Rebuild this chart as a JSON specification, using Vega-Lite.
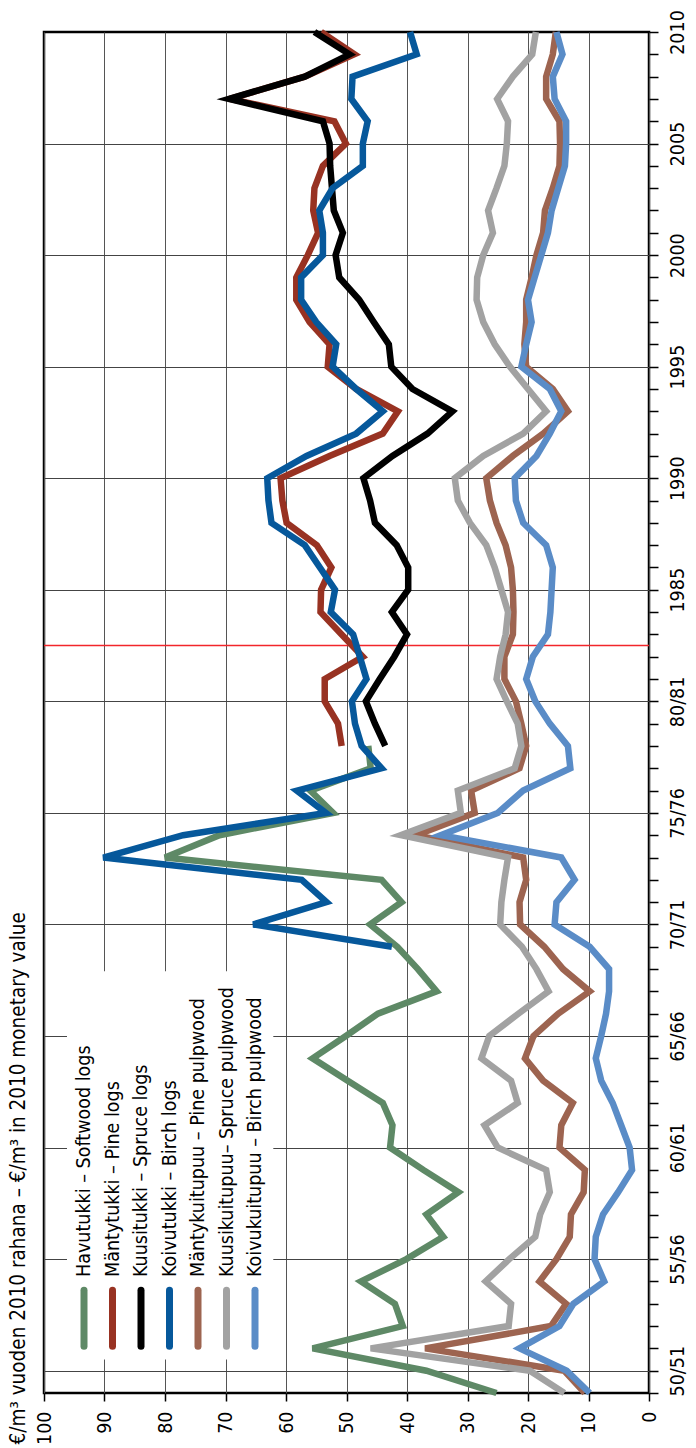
{
"$schema": "https://vega.github.io/schema/vega-lite/v6.json",
"width": 605,
"height": 1361,
"autosize": {"type": "none"},
"padding": {"left": 44, "top": 32, "right": 47, "bottom": 55},
"background": "white",
"config": {"font": "DejaVu Sans Condensed, Liberation Sans, sans-serif", "view": {"stroke": "black", "strokeWidth": 2.5}},
"title": {"text": "€/m³ vuoden 2010 rahana – €/m³ in 2010 monetary value", "orient": "left", "anchor": "start", "fontSize": 20.5, "fontWeight": "normal", "color": "black", "offset": 5},
"datasets": {
"series": [
{"s":"Havutukki","year":1949,"v":25.2},{"s":"Havutukki","year":1950,"v":36.8},{"s":"Havutukki","year":1951,"v":55.6},{"s":"Havutukki","year":1952,"v":40.7},{"s":"Havutukki","year":1953,"v":42.0},{"s":"Havutukki","year":1954,"v":47.6},{"s":"Havutukki","year":1955,"v":40.1},{"s":"Havutukki","year":1956,"v":34.0},{"s":"Havutukki","year":1957,"v":36.8},{"s":"Havutukki","year":1958,"v":31.5},{"s":"Havutukki","year":1959,"v":37.3},{"s":"Havutukki","year":1960,"v":42.8},{"s":"Havutukki","year":1961,"v":42.4},{"s":"Havutukki","year":1962,"v":44.0},{"s":"Havutukki","year":1963,"v":49.8},{"s":"Havutukki","year":1964,"v":55.6},{"s":"Havutukki","year":1965,"v":50.1},{"s":"Havutukki","year":1966,"v":44.8},{"s":"Havutukki","year":1967,"v":35.1},{"s":"Havutukki","year":1968,"v":38.2},{"s":"Havutukki","year":1969,"v":41.6},{"s":"Havutukki","year":1970,"v":46.1},{"s":"Havutukki","year":1971,"v":40.9},{"s":"Havutukki","year":1972,"v":44.2},{"s":"Havutukki","year":1973,"v":80.0},{"s":"Havutukki","year":1974,"v":71.0},{"s":"Havutukki","year":1975,"v":52.2},{"s":"Havutukki","year":1976,"v":56.0},{"s":"Havutukki","year":1977,"v":46.0},{"s":"Havutukki","year":1978,"v":46.4},
{"s":"Mäntytukki","year":1978,"v":50.8},{"s":"Mäntytukki","year":1979,"v":51.4},{"s":"Mäntytukki","year":1980,"v":53.6},{"s":"Mäntytukki","year":1981,"v":53.6},{"s":"Mäntytukki","year":1982,"v":47.3},{"s":"Mäntytukki","year":1983,"v":50.8},{"s":"Mäntytukki","year":1984,"v":54.3},{"s":"Mäntytukki","year":1985,"v":54.2},{"s":"Mäntytukki","year":1986,"v":52.5},{"s":"Mäntytukki","year":1987,"v":54.9},{"s":"Mäntytukki","year":1988,"v":59.9},{"s":"Mäntytukki","year":1989,"v":60.6},{"s":"Mäntytukki","year":1990,"v":60.9},{"s":"Mäntytukki","year":1991,"v":52.8},{"s":"Mäntytukki","year":1992,"v":44.0},{"s":"Mäntytukki","year":1993,"v":41.5},{"s":"Mäntytukki","year":1994,"v":48.4},{"s":"Mäntytukki","year":1995,"v":53.1},{"s":"Mäntytukki","year":1996,"v":52.8},{"s":"Mäntytukki","year":1997,"v":56.1},{"s":"Mäntytukki","year":1998,"v":58.3},{"s":"Mäntytukki","year":1999,"v":58.3},{"s":"Mäntytukki","year":2000,"v":56.4},{"s":"Mäntytukki","year":2001,"v":54.7},{"s":"Mäntytukki","year":2002,"v":55.5},{"s":"Mäntytukki","year":2003,"v":55.3},{"s":"Mäntytukki","year":2004,"v":53.9},{"s":"Mäntytukki","year":2005,"v":50.1},{"s":"Mäntytukki","year":2006,"v":52.0},{"s":"Mäntytukki","year":2007,"v":69.3},{"s":"Mäntytukki","year":2008,"v":56.9},{"s":"Mäntytukki","year":2009,"v":48.7},{"s":"Mäntytukki","year":2010,"v":54.2},
{"s":"Kuusitukki","year":1978,"v":43.6},{"s":"Kuusitukki","year":1979,"v":45.3},{"s":"Kuusitukki","year":1980,"v":46.8},{"s":"Kuusitukki","year":1981,"v":44.5},{"s":"Kuusitukki","year":1982,"v":42.1},{"s":"Kuusitukki","year":1983,"v":40.0},{"s":"Kuusitukki","year":1984,"v":42.5},{"s":"Kuusitukki","year":1985,"v":39.8},{"s":"Kuusitukki","year":1986,"v":39.8},{"s":"Kuusitukki","year":1987,"v":41.7},{"s":"Kuusitukki","year":1988,"v":45.3},{"s":"Kuusitukki","year":1989,"v":46.1},{"s":"Kuusitukki","year":1990,"v":47.2},{"s":"Kuusitukki","year":1991,"v":42.4},{"s":"Kuusitukki","year":1992,"v":36.6},{"s":"Kuusitukki","year":1993,"v":32.5},{"s":"Kuusitukki","year":1994,"v":39.1},{"s":"Kuusitukki","year":1995,"v":42.6},{"s":"Kuusitukki","year":1996,"v":43.0},{"s":"Kuusitukki","year":1997,"v":45.5},{"s":"Kuusitukki","year":1998,"v":47.9},{"s":"Kuusitukki","year":1999,"v":51.2},{"s":"Kuusitukki","year":2000,"v":51.8},{"s":"Kuusitukki","year":2001,"v":50.6},{"s":"Kuusitukki","year":2002,"v":52.1},{"s":"Kuusitukki","year":2003,"v":52.4},{"s":"Kuusitukki","year":2004,"v":52.7},{"s":"Kuusitukki","year":2005,"v":52.8},{"s":"Kuusitukki","year":2006,"v":53.9},{"s":"Kuusitukki","year":2007,"v":69.4},{"s":"Kuusitukki","year":2008,"v":56.9},{"s":"Kuusitukki","year":2009,"v":49.5},{"s":"Kuusitukki","year":2010,"v":55.3},
{"s":"Koivutukki","year":1969,"v":42.5},{"s":"Koivutukki","year":1970,"v":65.4},{"s":"Koivutukki","year":1971,"v":53.3},{"s":"Koivutukki","year":1972,"v":57.4},{"s":"Koivutukki","year":1973,"v":90.2},{"s":"Koivutukki","year":1974,"v":77.0},{"s":"Koivutukki","year":1975,"v":53.4},{"s":"Koivutukki","year":1976,"v":58.2},{"s":"Koivutukki","year":1977,"v":44.2},{"s":"Koivutukki","year":1978,"v":47.5},{"s":"Koivutukki","year":1979,"v":48.6},{"s":"Koivutukki","year":1980,"v":49.1},{"s":"Koivutukki","year":1981,"v":46.7},{"s":"Koivutukki","year":1982,"v":47.8},{"s":"Koivutukki","year":1983,"v":48.9},{"s":"Koivutukki","year":1984,"v":52.6},{"s":"Koivutukki","year":1985,"v":51.9},{"s":"Koivutukki","year":1986,"v":54.4},{"s":"Koivutukki","year":1987,"v":56.9},{"s":"Koivutukki","year":1988,"v":62.4},{"s":"Koivutukki","year":1989,"v":62.9},{"s":"Koivutukki","year":1990,"v":63.1},{"s":"Koivutukki","year":1991,"v":56.6},{"s":"Koivutukki","year":1992,"v":48.4},{"s":"Koivutukki","year":1993,"v":44.0},{"s":"Koivutukki","year":1994,"v":48.4},{"s":"Koivutukki","year":1995,"v":52.3},{"s":"Koivutukki","year":1996,"v":51.7},{"s":"Koivutukki","year":1997,"v":55.0},{"s":"Koivutukki","year":1998,"v":57.5},{"s":"Koivutukki","year":1999,"v":57.5},{"s":"Koivutukki","year":2000,"v":53.9},{"s":"Koivutukki","year":2001,"v":53.9},{"s":"Koivutukki","year":2002,"v":54.5},{"s":"Koivutukki","year":2003,"v":52.3},{"s":"Koivutukki","year":2004,"v":47.3},{"s":"Koivutukki","year":2005,"v":47.3},{"s":"Koivutukki","year":2006,"v":46.5},{"s":"Koivutukki","year":2007,"v":49.2},{"s":"Koivutukki","year":2008,"v":49.0},{"s":"Koivutukki","year":2009,"v":38.4},{"s":"Koivutukki","year":2010,"v":39.5},
{"s":"Mäntykuitupuu","year":1949,"v":10.6},{"s":"Mäntykuitupuu","year":1950,"v":14.0},{"s":"Mäntykuitupuu","year":1951,"v":37.0},{"s":"Mäntykuitupuu","year":1952,"v":16.2},{"s":"Mäntykuitupuu","year":1953,"v":13.7},{"s":"Mäntykuitupuu","year":1954,"v":18.1},{"s":"Mäntykuitupuu","year":1955,"v":15.3},{"s":"Mäntykuitupuu","year":1956,"v":13.1},{"s":"Mäntykuitupuu","year":1957,"v":12.9},{"s":"Mäntykuitupuu","year":1958,"v":10.8},{"s":"Mäntykuitupuu","year":1959,"v":10.6},{"s":"Mäntykuitupuu","year":1960,"v":14.8},{"s":"Mäntykuitupuu","year":1961,"v":14.5},{"s":"Mäntykuitupuu","year":1962,"v":12.6},{"s":"Mäntykuitupuu","year":1963,"v":17.5},{"s":"Mäntykuitupuu","year":1964,"v":20.5},{"s":"Mäntykuitupuu","year":1965,"v":19.1},{"s":"Mäntykuitupuu","year":1966,"v":15.0},{"s":"Mäntykuitupuu","year":1967,"v":9.8},{"s":"Mäntykuitupuu","year":1968,"v":14.2},{"s":"Mäntykuitupuu","year":1969,"v":17.3},{"s":"Mäntykuitupuu","year":1970,"v":21.3},{"s":"Mäntykuitupuu","year":1971,"v":21.4},{"s":"Mäntykuitupuu","year":1972,"v":20.3},{"s":"Mäntykuitupuu","year":1973,"v":20.8},{"s":"Mäntykuitupuu","year":1974,"v":38.5},{"s":"Mäntykuitupuu","year":1975,"v":28.8},{"s":"Mäntykuitupuu","year":1976,"v":29.4},{"s":"Mäntykuitupuu","year":1977,"v":21.4},{"s":"Mäntykuitupuu","year":1978,"v":20.3},{"s":"Mäntykuitupuu","year":1979,"v":21.1},{"s":"Mäntykuitupuu","year":1980,"v":22.0},{"s":"Mäntykuitupuu","year":1981,"v":23.9},{"s":"Mäntykuitupuu","year":1982,"v":23.9},{"s":"Mäntykuitupuu","year":1983,"v":22.5},{"s":"Mäntykuitupuu","year":1984,"v":22.4},{"s":"Mäntykuitupuu","year":1985,"v":22.5},{"s":"Mäntykuitupuu","year":1986,"v":22.8},{"s":"Mäntykuitupuu","year":1987,"v":23.7},{"s":"Mäntykuitupuu","year":1988,"v":25.2},{"s":"Mäntykuitupuu","year":1989,"v":26.3},{"s":"Mäntykuitupuu","year":1990,"v":26.9},{"s":"Mäntykuitupuu","year":1991,"v":22.5},{"s":"Mäntykuitupuu","year":1992,"v":17.5},{"s":"Mäntykuitupuu","year":1993,"v":13.4},{"s":"Mäntykuitupuu","year":1994,"v":15.9},{"s":"Mäntykuitupuu","year":1995,"v":20.3},{"s":"Mäntykuitupuu","year":1996,"v":20.6},{"s":"Mäntykuitupuu","year":1997,"v":20.3},{"s":"Mäntykuitupuu","year":1998,"v":20.3},{"s":"Mäntykuitupuu","year":1999,"v":19.4},{"s":"Mäntykuitupuu","year":2000,"v":18.6},{"s":"Mäntykuitupuu","year":2001,"v":17.5},{"s":"Mäntykuitupuu","year":2002,"v":17.2},{"s":"Mäntykuitupuu","year":2003,"v":15.9},{"s":"Mäntykuitupuu","year":2004,"v":14.8},{"s":"Mäntykuitupuu","year":2005,"v":14.7},{"s":"Mäntykuitupuu","year":2006,"v":14.8},{"s":"Mäntykuitupuu","year":2007,"v":17.0},{"s":"Mäntykuitupuu","year":2008,"v":17.0},{"s":"Mäntykuitupuu","year":2009,"v":15.9},{"s":"Mäntykuitupuu","year":2010,"v":15.4},
{"s":"Kuusikuitupuu","year":1949,"v":14.0},{"s":"Kuusikuitupuu","year":1950,"v":19.7},{"s":"Kuusikuitupuu","year":1951,"v":46.0},{"s":"Kuusikuitupuu","year":1952,"v":23.2},{"s":"Kuusikuitupuu","year":1953,"v":22.8},{"s":"Kuusikuitupuu","year":1954,"v":27.0},{"s":"Kuusikuitupuu","year":1955,"v":23.1},{"s":"Kuusikuitupuu","year":1956,"v":18.8},{"s":"Kuusikuitupuu","year":1957,"v":18.0},{"s":"Kuusikuitupuu","year":1958,"v":16.4},{"s":"Kuusikuitupuu","year":1959,"v":17.0},{"s":"Kuusikuitupuu","year":1960,"v":25.0},{"s":"Kuusikuitupuu","year":1961,"v":27.2},{"s":"Kuusikuitupuu","year":1962,"v":21.7},{"s":"Kuusikuitupuu","year":1963,"v":22.8},{"s":"Kuusikuitupuu","year":1964,"v":27.7},{"s":"Kuusikuitupuu","year":1965,"v":26.4},{"s":"Kuusikuitupuu","year":1966,"v":21.6},{"s":"Kuusikuitupuu","year":1967,"v":16.6},{"s":"Kuusikuitupuu","year":1968,"v":18.6},{"s":"Kuusikuitupuu","year":1969,"v":21.0},{"s":"Kuusikuitupuu","year":1970,"v":24.6},{"s":"Kuusikuitupuu","year":1971,"v":24.4},{"s":"Kuusikuitupuu","year":1972,"v":23.9},{"s":"Kuusikuitupuu","year":1973,"v":23.3},{"s":"Kuusikuitupuu","year":1974,"v":41.0},{"s":"Kuusikuitupuu","year":1975,"v":31.1},{"s":"Kuusikuitupuu","year":1976,"v":31.6},{"s":"Kuusikuitupuu","year":1977,"v":22.2},{"s":"Kuusikuitupuu","year":1978,"v":21.1},{"s":"Kuusikuitupuu","year":1979,"v":21.7},{"s":"Kuusikuitupuu","year":1980,"v":23.5},{"s":"Kuusikuitupuu","year":1981,"v":25.2},{"s":"Kuusikuitupuu","year":1982,"v":24.6},{"s":"Kuusikuitupuu","year":1983,"v":23.7},{"s":"Kuusikuitupuu","year":1984,"v":23.3},{"s":"Kuusikuitupuu","year":1985,"v":24.4},{"s":"Kuusikuitupuu","year":1986,"v":25.5},{"s":"Kuusikuitupuu","year":1987,"v":26.9},{"s":"Kuusikuitupuu","year":1988,"v":29.6},{"s":"Kuusikuitupuu","year":1989,"v":31.6},{"s":"Kuusikuitupuu","year":1990,"v":32.1},{"s":"Kuusikuitupuu","year":1991,"v":27.4},{"s":"Kuusikuitupuu","year":1992,"v":20.8},{"s":"Kuusikuitupuu","year":1993,"v":17.0},{"s":"Kuusikuitupuu","year":1994,"v":20.0},{"s":"Kuusikuitupuu","year":1995,"v":23.0},{"s":"Kuusikuitupuu","year":1996,"v":25.5},{"s":"Kuusikuitupuu","year":1997,"v":27.4},{"s":"Kuusikuitupuu","year":1998,"v":28.5},{"s":"Kuusikuitupuu","year":1999,"v":28.4},{"s":"Kuusikuitupuu","year":2000,"v":27.4},{"s":"Kuusikuitupuu","year":2001,"v":25.8},{"s":"Kuusikuitupuu","year":2002,"v":26.6},{"s":"Kuusikuitupuu","year":2003,"v":25.2},{"s":"Kuusikuitupuu","year":2004,"v":23.9},{"s":"Kuusikuitupuu","year":2005,"v":23.5},{"s":"Kuusikuitupuu","year":2006,"v":23.3},{"s":"Kuusikuitupuu","year":2007,"v":25.1},{"s":"Kuusikuitupuu","year":2008,"v":22.5},{"s":"Kuusikuitupuu","year":2009,"v":19.3},{"s":"Kuusikuitupuu","year":2010,"v":18.7},
{"s":"Koivukuitupuu","year":1949,"v":9.8},{"s":"Koivukuitupuu","year":1950,"v":13.6},{"s":"Koivukuitupuu","year":1951,"v":21.4},{"s":"Koivukuitupuu","year":1952,"v":14.8},{"s":"Koivukuitupuu","year":1953,"v":12.5},{"s":"Koivukuitupuu","year":1954,"v":7.4},{"s":"Koivukuitupuu","year":1955,"v":9.0},{"s":"Koivukuitupuu","year":1956,"v":8.8},{"s":"Koivukuitupuu","year":1957,"v":7.6},{"s":"Koivukuitupuu","year":1958,"v":5.1},{"s":"Koivukuitupuu","year":1959,"v":2.8},{"s":"Koivukuitupuu","year":1960,"v":3.2},{"s":"Koivukuitupuu","year":1961,"v":4.6},{"s":"Koivukuitupuu","year":1962,"v":6.0},{"s":"Koivukuitupuu","year":1963,"v":7.9},{"s":"Koivukuitupuu","year":1964,"v":8.8},{"s":"Koivukuitupuu","year":1965,"v":7.9},{"s":"Koivukuitupuu","year":1966,"v":7.1},{"s":"Koivukuitupuu","year":1967,"v":6.6},{"s":"Koivukuitupuu","year":1968,"v":6.6},{"s":"Koivukuitupuu","year":1969,"v":9.8},{"s":"Koivukuitupuu","year":1970,"v":15.6},{"s":"Koivukuitupuu","year":1971,"v":15.3},{"s":"Koivukuitupuu","year":1972,"v":12.3},{"s":"Koivukuitupuu","year":1973,"v":14.5},{"s":"Koivukuitupuu","year":1974,"v":34.4},{"s":"Koivukuitupuu","year":1975,"v":25.0},{"s":"Koivukuitupuu","year":1976,"v":20.8},{"s":"Koivukuitupuu","year":1977,"v":13.0},{"s":"Koivukuitupuu","year":1978,"v":13.4},{"s":"Koivukuitupuu","year":1979,"v":16.4},{"s":"Koivukuitupuu","year":1980,"v":18.8},{"s":"Koivukuitupuu","year":1981,"v":20.3},{"s":"Koivukuitupuu","year":1982,"v":19.2},{"s":"Koivukuitupuu","year":1983,"v":16.7},{"s":"Koivukuitupuu","year":1984,"v":16.3},{"s":"Koivukuitupuu","year":1985,"v":16.1},{"s":"Koivukuitupuu","year":1986,"v":15.9},{"s":"Koivukuitupuu","year":1987,"v":17.0},{"s":"Koivukuitupuu","year":1988,"v":20.8},{"s":"Koivukuitupuu","year":1989,"v":22.0},{"s":"Koivukuitupuu","year":1990,"v":22.2},{"s":"Koivukuitupuu","year":1991,"v":18.6},{"s":"Koivukuitupuu","year":1992,"v":16.4},{"s":"Koivukuitupuu","year":1993,"v":14.5},{"s":"Koivukuitupuu","year":1994,"v":16.4},{"s":"Koivukuitupuu","year":1995,"v":21.1},{"s":"Koivukuitupuu","year":1996,"v":20.3},{"s":"Koivukuitupuu","year":1997,"v":19.4},{"s":"Koivukuitupuu","year":1998,"v":20.0},{"s":"Koivukuitupuu","year":1999,"v":18.9},{"s":"Koivukuitupuu","year":2000,"v":17.8},{"s":"Koivukuitupuu","year":2001,"v":16.7},{"s":"Koivukuitupuu","year":2002,"v":16.1},{"s":"Koivukuitupuu","year":2003,"v":15.0},{"s":"Koivukuitupuu","year":2004,"v":13.9},{"s":"Koivukuitupuu","year":2005,"v":13.7},{"s":"Koivukuitupuu","year":2006,"v":13.7},{"s":"Koivukuitupuu","year":2007,"v":15.6},{"s":"Koivukuitupuu","year":2008,"v":15.9},{"s":"Koivukuitupuu","year":2009,"v":14.3},{"s":"Koivukuitupuu","year":2010,"v":15.3}
],
"legend": [
{"s":"Havutukki","label":"Havutukki – Softwood logs"},
{"s":"Mäntytukki","label":"Mäntytukki – Pine logs"},
{"s":"Kuusitukki","label":"Kuusitukki – Spruce logs"},
{"s":"Koivutukki","label":"Koivutukki – Birch logs"},
{"s":"Mäntykuitupuu","label":"Mäntykuitupuu – Pine pulpwood"},
{"s":"Kuusikuitupuu","label":"Kuusikuitupuu– Spruce pulpwood"},
{"s":"Koivukuitupuu","label":"Koivukuitupuu –  Birch pulpwood"}
],
"marks": [{"what": "legend box"}, {"what": "series break 1982/83"}]
},
"layer": [
{
"data": {"name": "marks"},
"transform": [{"filter": "datum.what == 'series break 1982/83'"}],
"mark": {"type": "rule", "color": "#F2262B", "strokeWidth": 1.4},
"encoding": {
"y": {"datum": 1982.5, "type": "quantitative"}
}
},
{
"data": {"name": "series"},
"mark": {"type": "line", "strokeWidth": 6.5, "strokeJoin": "miter"},
"encoding": {
"x": {"field": "v", "type": "quantitative", "scale": {"domain": [0, 100], "reverse": true},
"axis": {"values": [0,10,20,30,40,50,60,70,80,90,100], "tickCount": 20, "grid": true, "gridColor": "#555", "gridWidth": 1, "domain": false, "ticks": true, "tickColor": "black", "tickSize": 8, "tickWidth": 1.5, "labelAngle": 270, "labelFontSize": 19.5, "labelColor": "black", "labelPadding": 10, "title": null, "labelOverlap": false}},
"y": {"field": "year", "type": "quantitative", "scale": {"domain": [1949, 2010], "nice": false, "zero": false},
"axis": {"orient": "right", "tickCount": 100, "values": [1949,1950,1951,1952,1953,1954,1955,1956,1957,1958,1959,1960,1961,1962,1963,1964,1965,1966,1967,1968,1969,1970,1971,1972,1973,1974,1975,1976,1977,1978,1979,1980,1981,1982,1983,1984,1985,1986,1987,1988,1989,1990,1991,1992,1993,1994,1995,1996,1997,1998,1999,2000,2001,2002,2003,2004,2005,2006,2007,2008,2009,2010],
"labelExpr": "datum.value % 5 != 0 ? '' : (datum.value < 1985 ? substring(toString(datum.value), 2, 4) + '/' + substring(toString(datum.value + 1), 2, 4) : toString(datum.value))",
"grid": true, "gridColor": "#444", "gridWidth": 1, "gridOpacity": {"condition": {"test": "datum.value % 5 == 0 && datum.value != 2010", "value": 1}, "value": 0},
"domain": false, "ticks": true, "tickColor": "black", "tickSize": 9, "tickWidth": 1.5, "labelAngle": 270, "labelFontSize": 19.5, "labelColor": "black", "labelPadding": 10, "title": null, "labelOverlap": false}},
"color": {"field": "s", "type": "nominal", "scale": {"domain": ["Havutukki","Mäntytukki","Kuusitukki","Koivutukki","Mäntykuitupuu","Kuusikuitupuu","Koivukuitupuu"], "range": ["#5E8966","#983222","#000000","#06589B","#9D6450","#A2A2A2","#5A8CC7"]}, "legend": null},
"order": {"field": "year", "type": "quantitative"}
}
},
{
"data": {"name": "marks"},
"transform": [{"filter": "datum.what == 'legend box'"}],
"mark": {"type": "rect", "fill": "white"},
"encoding": {
"x": {"datum": 96.2, "type": "quantitative", "scale": {"domain": [0, 100], "reverse": true}, "axis": null},
"x2": {"datum": 62.1},
"y": {"datum": 1950.5, "type": "quantitative"},
"y2": {"datum": 1967.9}
}
},
{
"data": {"name": "legend"},
"mark": {"type": "rule", "strokeWidth": 7, "strokeCap": "round"},
"encoding": {
"x": {"field": "s", "type": "nominal", "sort": null, "scale": {"type": "point", "domain": ["Havutukki","Mäntytukki","Kuusitukki","Koivutukki","Mäntykuitupuu","Kuusikuitupuu","Koivukuitupuu"], "range": [40, 211], "padding": 0}, "axis": null},
"y": {"datum": 1951.1, "type": "quantitative"},
"y2": {"datum": 1953.6},
"color": {"field": "s", "type": "nominal", "legend": null}
}
},
{
"data": {"name": "legend"},
"mark": {"type": "text", "angle": 270, "align": "left", "baseline": "middle", "fontSize": 19.5, "color": "black"},
"encoding": {
"x": {"field": "s", "type": "nominal", "sort": null, "scale": {"type": "point", "domain": ["Havutukki","Mäntytukki","Kuusitukki","Koivutukki","Mäntykuitupuu","Kuusikuitupuu","Koivukuitupuu"], "range": [40, 211], "padding": 0}, "axis": null},
"y": {"datum": 1954.2, "type": "quantitative"},
"text": {"field": "label", "type": "nominal"}
}
}
],
"resolve": {"scale": {"x": "independent"}}
}
